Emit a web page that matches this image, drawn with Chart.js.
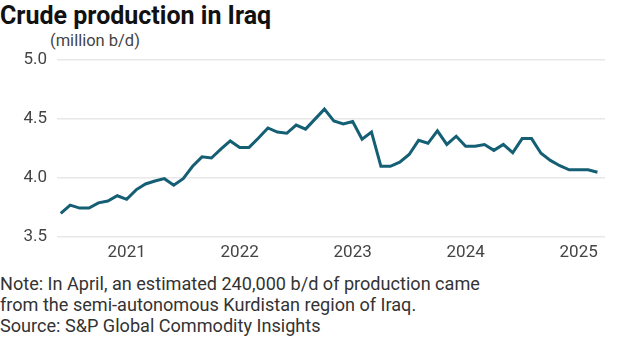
<!DOCTYPE html>
<html>
<head>
<meta charset="utf-8">
<script src="https://cdn.jsdelivr.net/npm/chart.js@4"></script>
<style>
  html, body { margin: 0; padding: 0; background: #fff; }
  body { width: 643px; height: 339px; position: relative; overflow: hidden; font-family: Roboto, "Liberation Sans", sans-serif; }
  #title { position: absolute; left: 0; top: 1px; font-size: 25px; font-weight: 700; color: #111; white-space: nowrap; }
  #unit { position: absolute; left: 50px; top: 31px; font-size: 16.5px; color: #444; white-space: nowrap; }
  #note { position: absolute; left: 0; top: 273px; font-size: 18.1px; line-height: 21px; color: #333; white-space: nowrap; }
  #wrap { position: absolute; left: 0; top: 40px; width: 643px; height: 230px; }
</style>
</head>
<body>
<div id="title">Crude production in Iraq</div>
<div id="unit">(million b/d)</div>
<div id="wrap"><canvas id="c" width="643" height="230"></canvas></div>
<div id="note">Note: In April, an estimated 240,000 b/d of production came<br>from the semi-autonomous Kurdistan region of Iraq.<br>Source: S&amp;P Global Commodity Insights</div>
<script>
// Monthly, June 2020 - March 2025
const months = [];
(function(){ let y = 2020, m = 6; for (let i = 0; i < 58; i++) { months.push(y + '-' + String(m).padStart(2,'0')); m++; if (m > 12) { m = 1; y++; } } })();
const production = [
  3.70, 3.77, 3.745, 3.745, 3.79, 3.805, 3.85, 3.82, 3.90, 3.95,
  3.975, 3.995, 3.94, 3.995, 4.10, 4.18, 4.17, 4.245, 4.315, 4.26,
  4.26, 4.34, 4.425, 4.39, 4.38, 4.45, 4.415, 4.50, 4.585, 4.485,
  4.46, 4.48, 4.33, 4.39, 4.10, 4.10, 4.135, 4.20, 4.32, 4.295,
  4.40, 4.285, 4.355, 4.27, 4.27, 4.285, 4.235, 4.285, 4.215, 4.335,
  4.335, 4.21, 4.15, 4.105, 4.07, 4.07, 4.07, 4.05
];
const yTicks = [3.5, 4.0, 4.5, 5.0];
const yearLabels = ['2021', '2022', '2023', '2024', '2025'];
const yearIdx = yearLabels.map(y => months.indexOf(y + '-01'));

const points = production.map((v, i) => ({ x: i, y: v }));

new Chart(document.getElementById('c'), {
  type: 'line',
  data: { datasets: [{ data: points, borderColor: '#145f74', borderWidth: 3, pointRadius: 0, tension: 0, fill: false, borderJoinStyle: 'miter' }] },
  options: {
    responsive: false, animation: false,
    layout: { padding: { top: 20, right: 38, left: 0, bottom: 0 } },
    plugins: { legend: { display: false }, tooltip: { enabled: false } },
    scales: {
      x: {
        type: 'linear', min: -0.4, max: 57.8,
        afterBuildTicks: s => { s.ticks = yearIdx.map(v => ({ value: v })); },
        afterFit: s => { s.height = 33; },
        ticks: { callback: (v) => { const k = yearIdx.indexOf(v); return k >= 0 ? yearLabels[k] : ''; }, color: '#444', font: { family: 'Roboto', size: 17 }, padding: 6, maxRotation: 0, autoSkip: false },
        grid: { display: false, drawTicks: false },
        border: { display: false }
      },
      y: {
        min: 3.5, max: 5.0,
        afterBuildTicks: s => { s.ticks = yTicks.map(v => ({ value: v })); },
        afterFit: s => { s.width = 57; },
        ticks: { callback: v => v.toFixed(1), color: '#444', font: { family: 'Roboto', size: 17 }, padding: 10 },
        grid: { color: '#e8e8e8', lineWidth: 1.5, drawTicks: false },
        border: { display: false }
      }
    }
  }
});
</script>
</body>
</html>
